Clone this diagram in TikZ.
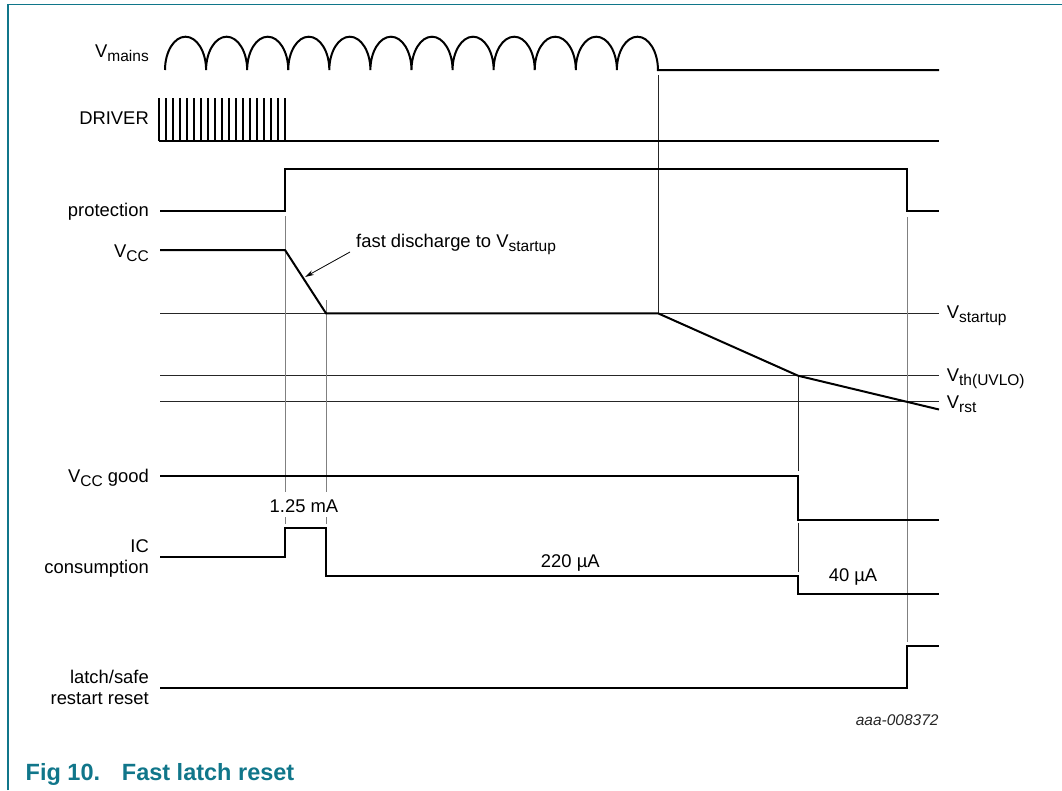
\documentclass[tikz,border=0pt]{standalone}
\usepackage{fontspec}
\setmainfont{Liberation Sans}
\usetikzlibrary{arrows.meta}
\definecolor{nxp}{RGB}{16,118,138}
\newcommand\sbs[1]{\raisebox{-4pt}{\fontsize{15.5}{15.5}\selectfont #1}}
\tikzset{
  sig/.style={line width=2pt, line join=miter, line cap=butt},
  ref/.style={line width=0.9pt, black!85},
  guide/.style={line width=0.9pt, black!50},
  lbl/.style={font=\fontsize{18.4}{21}\selectfont, inner sep=0pt},
  note/.style={font=\fontsize{15.5}{18}\selectfont\itshape, inner sep=0pt, text=black!85},
  captext/.style={font=\fontsize{23.5}{26}\selectfont\bfseries, inner sep=0pt, text=nxp}
}
\begin{document}
\begin{tikzpicture}[x=1pt,y=1pt]
\useasboundingbox (0,0) rectangle (1062,-790);
% frame
\draw[nxp, line width=1.3pt] (8,-790) -- (8,-4.5) -- (1062,-4.5);

% reference levels
\draw[ref] (160,-313.3) -- (939,-313.3);
\draw[ref] (160,-375.7) -- (939,-375.7);
\draw[ref] (160,-401.7) -- (939,-401.7);

% vertical guides
\draw[guide] (285,-216) -- (285,-492);
\draw[guide] (285,-517) -- (285,-524);
\draw[guide] (326,-300) -- (326,-492);
\draw[guide] (326,-517) -- (326,-524);
\draw[ref] (658,-75) -- (658,-313.3);
\draw[ref] (798,-375.7) -- (798,-471);
\draw[ref] (798,-523) -- (798,-572);
\draw[guide] (907,-217) -- (907,-642);

% Vmains
\draw[sig] (165,-70) \foreach \i in {1,...,12}{ arc[start angle=180,end angle=0,x radius=20.54,y radius=33.3] } -- (939,-70);
% DRIVER
\draw[sig] (159,-141) -- (939,-141);
\foreach \i in {0,...,18}{ \draw[sig] (159.3+6.97*\i,-141) -- ++(0,42.7); }
% protection
\draw[sig] (160,-211) -- (285,-211) -- (285,-169) -- (907,-169) -- (907,-211) -- (939,-211);
% VCC
\draw[sig] (160,-250) -- (285,-250) -- (326,-313.3) -- (658,-313.3) -- (798,-375.7) -- (939,-409.5);
% VCC good
\draw[sig] (160,-476) -- (798,-476) -- (798,-520) -- (939,-520);
% IC consumption
\draw[sig] (160,-557) -- (285,-557) -- (285,-528) -- (326,-528) -- (326,-576) -- (798,-576) -- (798,-594) -- (939,-594);
% latch
\draw[sig] (160,-688) -- (907,-688) -- (907,-646) -- (939,-646);

% left labels
\node[lbl, anchor=base east] (lvm) at (149,-57) {V\sbs{mains}};
\node[lbl, anchor=base east] (ldr) at (149,-124) {DRIVER};
\node[lbl, anchor=base east] (lpr) at (149,-216) {protection};
\node[lbl, anchor=base east] (lvcc) at (149,-257.5) {V\sbs{CC}};
\node[lbl, anchor=base east] (lgood) at (149,-482) {V\sbs{CC} good};
\node[lbl, anchor=base east] (lic1) at (149,-552.3) {IC};
\node[lbl, anchor=base east] (lic2) at (149,-573.3) {consumption};
\node[lbl, anchor=base east] (lla1) at (149,-683) {latch/safe};
\node[lbl, anchor=base east] (lla2) at (149,-704) {restart reset};

% right labels
\node[lbl, anchor=base west] (rst) at (946.7,-318.3) {V\sbs{startup}};
\node[lbl, anchor=base west] (rth) at (946.7,-381.7) {V\sbs{th(UVLO)}};
\node[lbl, anchor=base west] (rrs) at (946.7,-408) {V\sbs{rst}};

% annotations
\node[lbl, anchor=base west] (fd) at (356,-247.3) {fast discharge to V\sbs{startup}};
\coordinate (fdA) at (350,-252);
\coordinate (fdB) at (305,-277);
\draw[line width=0.8pt, -{Stealth[length=9pt,width=5pt]}] (fdA) -- (fdB);
\node[lbl, anchor=base] (ma) at (304,-512.7) {1.25 mA};
\node[lbl, anchor=base] (ua1) at (570.3,-567.3) {220 µA};
\node[lbl, anchor=base] (ua2) at (853,-581.7) {40 µA};
\node[note, anchor=base east] (code) at (938.7,-725) {aaa-008372};

% caption
\node[captext, anchor=base west] (fig) at (25.5,-780) {Fig 10.};
\node[captext, anchor=base west] (tit) at (121.7,-780) {Fast latch reset};
\end{tikzpicture}
\end{document}
